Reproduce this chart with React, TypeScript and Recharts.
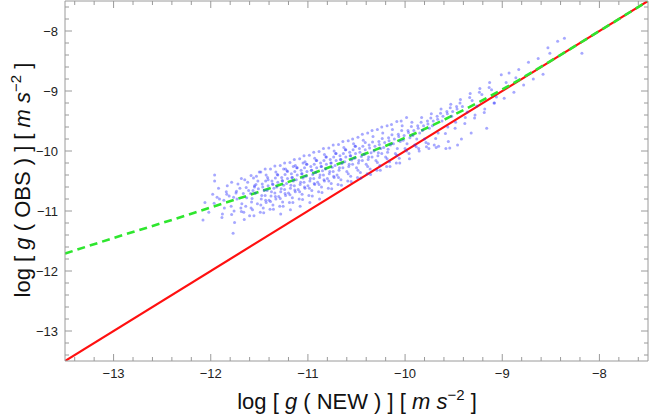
import { ComposedChart, XAxis, YAxis, Scatter, Line, Label } from "recharts";

const points: [number, number][] = [
  [-12.08, -11.15], [-12.06, -10.86],
  [-11.98, -10.72], [-11.96, -10.4], [-11.96, -10.5], [-12.02, -11.02],
  [-11.92, -10.62], [-11.88, -11.05], [-11.91, -10.8], [-11.86, -10.95],
  [-11.83, -10.58], [-11.79, -10.92], [-11.81, -10.75], [-11.77, -11.37], [-11.76, -11.0], [-11.84, -10.68],
  [-11.72, -10.55], [-11.68, -10.88], [-11.74, -10.7], [-11.66, -11.02], [-11.7, -10.62], [-11.69, -10.95], [-11.73, -10.8], [-11.65, -10.48],
  [-11.62, -10.52], [-11.58, -10.85], [-11.61, -10.66], [-11.57, -10.98], [-11.63, -10.78], [-11.56, -10.45], [-11.59, -10.71], [-11.64, -10.92], [-11.55, -10.6], [-11.6, -11.08],
  [-11.53, -10.42], [-11.48, -10.8], [-11.51, -10.63], [-11.46, -10.95], [-11.54, -10.7], [-11.47, -10.55], [-11.52, -10.88], [-11.45, -10.66], [-11.5, -10.35], [-11.49, -11.02], [-11.44, -10.74], [-11.55, -10.58],
  [-11.43, -10.4], [-11.38, -10.75], [-11.41, -10.58], [-11.36, -10.9], [-11.42, -10.66], [-11.37, -10.5], [-11.4, -10.82], [-11.35, -10.62], [-11.44, -10.3], [-11.39, -10.97], [-11.34, -10.7], [-11.41, -10.48], [-11.36, -10.56], [-11.43, -10.86],
  [-11.33, -10.35], [-11.28, -10.68], [-11.31, -10.52], [-11.26, -10.85], [-11.32, -10.6], [-11.27, -10.44], [-11.3, -10.76], [-11.25, -10.57], [-11.34, -10.25], [-11.29, -10.92], [-11.24, -10.64], [-11.31, -10.4], [-11.26, -10.5], [-11.33, -10.8], [-11.28, -11.05], [-11.25, -10.3],
  [-11.23, -10.3], [-11.18, -10.62], [-11.21, -10.46], [-11.16, -10.78], [-11.22, -10.54], [-11.17, -10.38], [-11.2, -10.7], [-11.15, -10.5], [-11.24, -10.2], [-11.19, -10.86], [-11.14, -10.58], [-11.21, -10.34], [-11.16, -10.44], [-11.23, -10.74], [-11.18, -10.98], [-11.15, -10.26],
  [-11.13, -10.24], [-11.08, -10.56], [-11.11, -10.4], [-11.06, -10.72], [-11.12, -10.48], [-11.07, -10.32], [-11.1, -10.64], [-11.05, -10.45], [-11.14, -10.14], [-11.09, -10.8], [-11.04, -10.52], [-11.11, -10.28], [-11.06, -10.38], [-11.13, -10.68], [-11.08, -10.92], [-11.05, -10.2],
  [-11.03, -10.18], [-10.98, -10.5], [-11.01, -10.34], [-10.96, -10.66], [-11.02, -10.42], [-10.97, -10.26], [-11.0, -10.58], [-10.95, -10.39], [-11.04, -10.08], [-10.99, -10.74], [-10.94, -10.46], [-11.01, -10.22], [-10.96, -10.32], [-11.03, -10.62], [-10.98, -10.86],
  [-10.93, -10.12], [-10.88, -10.44], [-10.91, -10.28], [-10.86, -10.6], [-10.92, -10.36], [-10.87, -10.2], [-10.9, -10.52], [-10.85, -10.33], [-10.94, -10.02], [-10.89, -10.68], [-10.84, -10.4], [-10.91, -10.16], [-10.86, -10.26], [-10.93, -10.56], [-10.88, -10.8],
  [-10.83, -10.06], [-10.78, -10.38], [-10.81, -10.22], [-10.76, -10.54], [-10.82, -10.3], [-10.77, -10.14], [-10.8, -10.46], [-10.75, -10.27], [-10.84, -9.96], [-10.79, -10.62], [-10.74, -10.34], [-10.81, -10.1], [-10.76, -10.2], [-10.83, -10.5],
  [-10.73, -10.0], [-10.68, -10.32], [-10.71, -10.16], [-10.66, -10.48], [-10.72, -10.24], [-10.67, -10.08], [-10.7, -10.4], [-10.65, -10.21], [-10.74, -9.9], [-10.69, -10.56], [-10.64, -10.28], [-10.71, -10.04], [-10.66, -10.14], [-10.73, -10.44],
  [-10.63, -9.94], [-10.58, -10.26], [-10.61, -10.1], [-10.56, -10.42], [-10.62, -10.18], [-10.57, -10.02], [-10.6, -10.34], [-10.55, -10.15], [-10.64, -9.84], [-10.59, -10.5], [-10.54, -10.22], [-10.61, -9.98], [-10.56, -10.08],
  [-10.53, -9.88], [-10.48, -10.2], [-10.51, -10.04], [-10.46, -10.36], [-10.52, -10.12], [-10.47, -9.96], [-10.5, -10.28], [-10.45, -10.09], [-10.54, -9.8], [-10.49, -10.44], [-10.44, -10.16], [-10.51, -9.92],
  [-10.43, -9.82], [-10.38, -10.14], [-10.41, -9.98], [-10.36, -10.3], [-10.42, -10.06], [-10.37, -9.9], [-10.4, -10.22], [-10.35, -10.03], [-10.44, -9.72], [-10.39, -10.38], [-10.34, -10.1], [-10.41, -9.86],
  [-10.33, -9.76], [-10.28, -10.08], [-10.31, -9.92], [-10.26, -10.24], [-10.32, -10.0], [-10.27, -9.84], [-10.3, -10.16], [-10.25, -9.96], [-10.34, -9.66], [-10.29, -10.32], [-10.24, -10.04],
  [-10.23, -9.7], [-10.18, -10.02], [-10.21, -9.86], [-10.16, -10.18], [-10.22, -9.94], [-10.17, -9.78], [-10.2, -10.1], [-10.15, -9.9], [-10.24, -9.6], [-10.19, -10.26],
  [-10.13, -9.64], [-10.08, -9.96], [-10.11, -9.8], [-10.06, -10.12], [-10.12, -9.88], [-10.07, -9.72], [-10.1, -10.04], [-10.05, -9.84], [-10.14, -9.56], [-10.09, -10.2],
  [-10.03, -9.58], [-9.98, -9.88], [-10.01, -9.74], [-9.96, -10.04], [-10.02, -9.82], [-9.97, -9.66], [-10.0, -9.96], [-9.95, -9.78], [-10.04, -9.5],
  [-9.93, -9.52], [-9.88, -9.8], [-9.91, -9.66], [-9.86, -9.96], [-9.92, -9.74], [-9.87, -9.58], [-9.9, -9.9], [-9.85, -9.7],
  [-9.83, -9.44], [-9.78, -9.93], [-9.81, -9.58], [-9.76, -9.88], [-9.82, -9.66], [-9.77, -9.5], [-9.8, -9.8], [-9.75, -9.62],
  [-9.73, -9.38], [-9.68, -9.94], [-9.71, -9.5], [-9.66, -9.7], [-9.72, -9.58], [-9.67, -9.42], [-9.7, -9.9],
  [-9.63, -9.3], [-9.58, -9.96], [-9.61, -9.42], [-9.56, -9.6], [-9.62, -9.5], [-9.57, -9.34], [-9.54, -9.95],
  [-9.53, -9.22], [-9.48, -9.52], [-9.51, -9.34], [-9.46, -9.9], [-9.52, -9.42], [-9.47, -9.26],
  [-9.43, -9.14], [-9.38, -9.44], [-9.41, -9.26], [-9.36, -9.35], [-9.42, -9.8],
  [-9.33, -9.04], [-9.28, -9.4], [-9.31, -9.16], [-9.26, -9.25], [-9.32, -9.7],
  [-9.23, -8.96], [-9.18, -9.3], [-9.21, -9.06], [-9.16, -9.62],
  [-9.13, -8.86], [-9.08, -9.2], [-9.11, -8.98], [-9.06, -9.1],
  [-9.01, -8.73], [-8.98, -9.12], [-8.96, -8.86],
  [-8.93, -8.7], [-8.88, -9.02], [-8.86, -8.78],
  [-8.83, -8.64], [-8.78, -8.9],
  [-8.73, -8.52], [-8.68, -8.8],
  [-8.63, -8.46], [-8.58, -8.72],
  [-8.51, -8.37], [-8.53, -8.28],
  [-8.43, -8.17], [-8.36, -8.12],
  [-8.18, -8.37],
];

// second batch of measurements from the denser part of the cloud
const morePoints: [number, number][] = [
  [-11.935, -10.77], [-11.885, -11.11], [-11.965, -10.87],
  [-11.835, -10.72], [-11.785, -11.06], [-11.865, -10.82], [-11.755, -11.19],
  [-11.735, -10.67], [-11.685, -11.01], [-11.765, -10.77], [-11.655, -11.14], [-11.785, -10.52],
  [-11.635, -10.61], [-11.585, -10.95], [-11.665, -10.71], [-11.555, -11.08], [-11.685, -10.46], [-11.575, -10.79],
  [-11.535, -10.56], [-11.485, -10.9], [-11.565, -10.66], [-11.455, -11.03], [-11.585, -10.41], [-11.475, -10.74], [-11.515, -10.5], [-11.435, -10.82],
  [-11.435, -10.5], [-11.385, -10.84], [-11.465, -10.6], [-11.355, -10.97], [-11.485, -10.35], [-11.375, -10.68], [-11.415, -10.44], [-11.335, -10.76],
  [-11.335, -10.45], [-11.285, -10.79], [-11.365, -10.55], [-11.255, -10.92], [-11.385, -10.3], [-11.275, -10.63], [-11.315, -10.39], [-11.235, -10.71],
  [-11.235, -10.39], [-11.185, -10.73], [-11.265, -10.49], [-11.155, -10.86], [-11.285, -10.24], [-11.175, -10.57], [-11.215, -10.33], [-11.135, -10.65],
  [-11.135, -10.34], [-11.085, -10.68], [-11.165, -10.44], [-11.055, -10.81], [-11.185, -10.19], [-11.075, -10.52], [-11.115, -10.28], [-11.035, -10.6],
  [-11.035, -10.28], [-10.985, -10.62], [-11.065, -10.38], [-10.955, -10.75], [-11.085, -10.13], [-10.975, -10.46], [-11.015, -10.22], [-10.935, -10.54],
  [-10.935, -10.22], [-10.885, -10.56], [-10.965, -10.32], [-10.855, -10.69], [-10.985, -10.07], [-10.875, -10.4], [-10.915, -10.16], [-10.835, -10.48],
  [-10.835, -10.16], [-10.785, -10.5], [-10.865, -10.26], [-10.755, -10.63], [-10.885, -10.01], [-10.775, -10.34], [-10.815, -10.1], [-10.735, -10.42],
  [-10.735, -10.1], [-10.685, -10.44], [-10.765, -10.2], [-10.655, -10.57], [-10.785, -9.95], [-10.675, -10.28], [-10.715, -10.04],
  [-10.635, -10.04], [-10.585, -10.38], [-10.665, -10.14], [-10.555, -10.51], [-10.685, -9.89], [-10.575, -10.22], [-10.615, -9.98],
  [-10.535, -9.98], [-10.485, -10.32], [-10.565, -10.08], [-10.455, -10.45], [-10.585, -9.83], [-10.475, -10.16], [-10.515, -9.92],
  [-10.435, -9.92], [-10.385, -10.26], [-10.465, -10.02], [-10.355, -10.39], [-10.485, -9.77], [-10.375, -10.1],
  [-10.335, -9.85], [-10.285, -10.19], [-10.365, -9.95], [-10.255, -10.32], [-10.385, -9.7], [-10.275, -10.03],
  [-10.235, -9.79], [-10.185, -10.13], [-10.265, -9.89], [-10.155, -10.26], [-10.285, -9.64], [-10.175, -9.97],
  [-10.135, -9.73], [-10.085, -10.07], [-10.165, -9.83], [-10.055, -10.2], [-10.185, -9.58],
  [-10.035, -9.66], [-9.985, -10.0], [-10.065, -9.76], [-9.955, -10.13], [-10.085, -9.51],
  [-9.935, -9.59], [-9.885, -9.93], [-9.965, -9.69], [-9.855, -10.0], [-9.985, -9.44],
  [-9.835, -9.52], [-9.785, -9.86], [-9.865, -9.62], [-9.755, -9.96],
  [-9.735, -9.45], [-9.685, -9.79], [-9.765, -9.55], [-9.655, -9.92],
  [-9.635, -9.37], [-9.585, -9.71], [-9.665, -9.47], [-9.555, -9.84],
  [-9.535, -9.28], [-9.485, -9.62], [-9.565, -9.38],
  [-9.435, -9.2], [-9.385, -9.54], [-9.465, -9.3],
  [-9.335, -9.11], [-9.285, -9.45],
  [-9.235, -9.02], [-9.185, -9.36],
  [-9.135, -8.94], [-9.085, -9.2],
];

// green dashed relation, read at half-decade steps
const fitX = [-13.5, -13, -12.5, -12, -11.5, -11, -10.5, -10, -9.5, -9, -8.5, -8, -7.5];
const fitY = [-11.71, -11.45, -11.2, -10.94, -10.68, -10.4, -10.1, -9.78, -9.4, -8.975, -8.497, -8.0, -7.5];

// one-to-one line
const unityX = [-13.5, -7.5];
const unityY = [-13.5, -7.5];

const axisTicks = [
  -13.4, -13.2, -13, -12.8, -12.6, -12.4, -12.2, -12, -11.8, -11.6, -11.4, -11.2, -11,
  -10.8, -10.6, -10.4, -10.2, -10, -9.8, -9.6, -9.4, -9.2, -9, -8.8, -8.6, -8.4, -8.2,
  -8, -7.8, -7.6,
];
const majorTicks = [-13, -12, -11, -10, -9, -8];

const scatterData = [...points, ...morePoints].map(([x, y]) => ({ x, y }));
const fitData = fitX.map((x, i) => ({ x, y: fitY[i] }));
const unityData = unityX.map((x, i) => ({ x, y: unityY[i] }));

const FRAME = "#9a9a9a";
const FONT = "'Liberation Sans', Arial, sans-serif";

const isMajor = (v: number) => majorTicks.some((m) => Math.abs(m - v) < 1e-6);
const fmt = (v: number) => `\u2212${Math.abs(Math.round(v))}`;

const makeTick = (side: "bottom" | "top" | "left" | "right") => (props: any) => {
  const { x, y, payload } = props;
  const major = isMajor(payload.value);
  const len = major ? 7 : 4;
  if (side === "bottom") {
    return (
      <g>
        <line x1={x} y1={y} x2={x} y2={y - len} stroke={FRAME} />
        {major && (
          <text x={x} y={y + 17} textAnchor="middle" fontSize={13} fill="#222" fontFamily={FONT}>
            {fmt(payload.value)}
          </text>
        )}
      </g>
    );
  }
  if (side === "top") {
    return <line x1={x} y1={y} x2={x} y2={y + len} stroke={FRAME} />;
  }
  if (side === "left") {
    return (
      <g>
        <line x1={x} y1={y} x2={x + len} y2={y} stroke={FRAME} />
        {major && (
          <text x={x - 7} y={y + 5} textAnchor="end" fontSize={13} fill="#222" fontFamily={FONT}>
            {fmt(payload.value)}
          </text>
        )}
      </g>
    );
  }
  return <line x1={x} y1={y} x2={x - len} y2={y} stroke={FRAME} />;
};

const AxisTitle = ({ name, x, y, rotate }: { name: string; x: number; y: number; rotate?: boolean }) => (
  <text
    x={x}
    y={y}
    textAnchor="middle"
    fontSize={22}
    fill="#111"
    fontFamily={FONT}
    transform={rotate ? `rotate(-90 ${x} ${y})` : undefined}
  >
    <tspan>log [ </tspan>
    <tspan fontStyle="italic">g</tspan>
    <tspan>{` ( ${name} ) ] [ `}</tspan>
    <tspan fontStyle="italic">m s</tspan>
    <tspan fontSize={15} dy={-9}>{"\u22122"}</tspan>
    <tspan dy={9}> ]</tspan>
  </text>
);

const Dot = (props: any) => (
  <circle cx={props.cx} cy={props.cy} r={1.5} fill="#2a30ff" fillOpacity={0.42} />
);

export default function App() {
  return (
    <div style={{ position: "absolute", left: 0, top: 0, background: "#fff" }}>
      <ComposedChart width={650} height={419} margin={{ top: 0, right: 0, bottom: 0, left: 0 }}>
        <XAxis
          xAxisId="b"
          dataKey="x"
          type="number"
          domain={[-13.5, -7.5]}
          ticks={axisTicks}
          interval={0}
          allowDataOverflow
          height={58}
          stroke={FRAME}
          tickLine={false}
          tickSize={0}
          tickMargin={0}
          tick={makeTick("bottom")}
        >
          <Label content={() => <AxisTitle name="NEW" x={357} y={409} />} />
        </XAxis>
        <XAxis
          xAxisId="t"
          orientation="top"
          dataKey="x"
          type="number"
          domain={[-13.5, -7.5]}
          ticks={axisTicks}
          interval={0}
          allowDataOverflow
          height={1}
          stroke={FRAME}
          tickLine={false}
          tickSize={0}
          tickMargin={0}
          tick={makeTick("top")}
        />
        <YAxis
          yAxisId="l"
          dataKey="y"
          type="number"
          domain={[-13.5, -7.5]}
          ticks={axisTicks}
          interval={0}
          allowDataOverflow
          width={65}
          stroke={FRAME}
          tickLine={false}
          tickSize={0}
          tickMargin={0}
          tick={makeTick("left")}
        >
          <Label content={() => <AxisTitle name="OBS" x={30} y={180} rotate />} />
        </YAxis>
        <YAxis
          yAxisId="r"
          orientation="right"
          dataKey="y"
          type="number"
          domain={[-13.5, -7.5]}
          ticks={axisTicks}
          interval={0}
          allowDataOverflow
          width={2}
          stroke={FRAME}
          tickLine={false}
          tickSize={0}
          tickMargin={0}
          tick={makeTick("right")}
        />
        <Scatter
          xAxisId="b"
          yAxisId="l"
          data={scatterData}
          dataKey="y"
          shape={Dot}
          isAnimationActive={false}
        />
        <Line
          xAxisId="b"
          yAxisId="l"
          data={unityData}
          dataKey="y"
          type="linear"
          stroke="#ff1010"
          strokeWidth={2.2}
          dot={false}
          activeDot={false}
          isAnimationActive={false}
        />
        <Line
          xAxisId="b"
          yAxisId="l"
          data={fitData}
          dataKey="y"
          type="monotone"
          stroke="#2ee62e"
          strokeWidth={2.6}
          strokeDasharray="8 5"
          dot={false}
          activeDot={false}
          isAnimationActive={false}
        />
      </ComposedChart>
    </div>
  );
}
